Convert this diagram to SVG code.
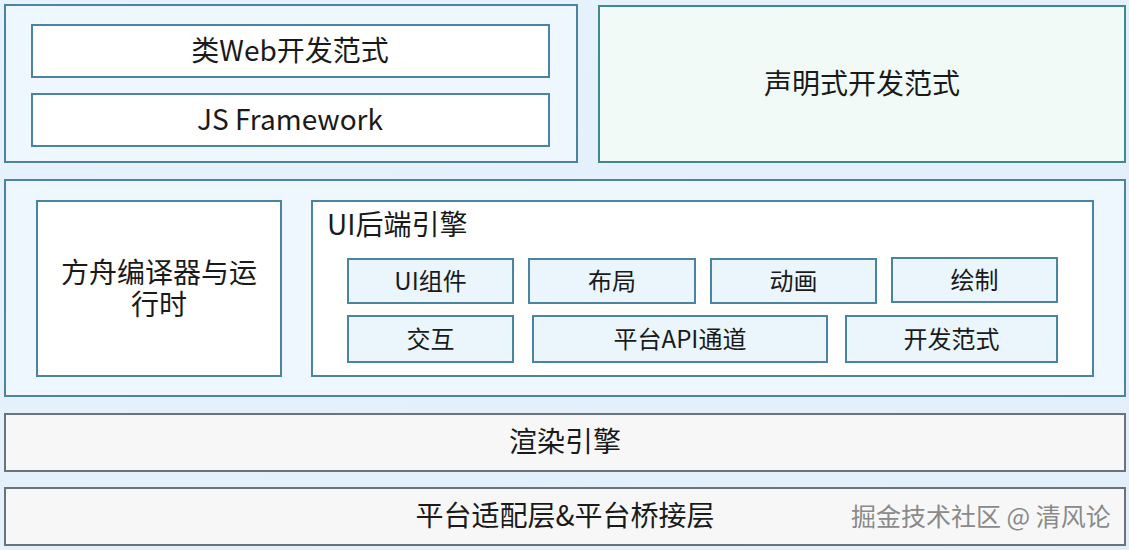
<svg xmlns="http://www.w3.org/2000/svg" width="1129" height="550" viewBox="0 0 1129 550">
<defs>
<linearGradient id="bg" x1="0" y1="0" x2="1" y2="1">
<stop offset="0" stop-color="#e6f2fc"/>
<stop offset="1" stop-color="#e2effb"/>
</linearGradient>
</defs>
<style>
.outer{fill:#eef7fd;stroke:#4b84a2;stroke-width:2}
.green{fill:#f1faf6;stroke:#3e8b8c;stroke-width:2}
.inner{fill:#ffffff;stroke:#4b84a2;stroke-width:2}
.small{fill:#eaf5fc;stroke:#4b84a2;stroke-width:2}
.gray{fill:#f7f7f7;stroke:#6b7278;stroke-width:2}
text{font-family:"Noto Sans CJK SC","Noto Sans",sans-serif;fill:#1a1a1a;text-anchor:middle;dominant-baseline:central}
.big{font-size:28px}
.sm{font-size:24px}
.wm{font-size:25px;fill:#8a8a8a;text-anchor:start}
</style>
<rect width="1129" height="550" fill="url(#bg)"/>
<g id="web-paradigm">
<rect class="outer" x="5" y="5" width="572" height="157"/>
<g id="web-like">
<rect class="inner" x="32" y="25" width="517" height="52"/>
<text class="big" x="290" y="49">类Web开发范式</text>
</g>
<g id="js-framework">
<rect class="inner" x="32" y="94" width="517" height="52"/>
<text class="big" x="290" y="118">JS Framework</text>
</g>
</g>
<g id="declarative">
<rect class="green" x="599" y="6" width="526" height="156"/>
<text class="big" x="862" y="82">声明式开发范式</text>
</g>
<g id="middle-layer">
<rect class="outer" x="5" y="180" width="1120" height="216"/>
<g id="ark-compiler">
<rect class="inner" x="37" y="201" width="244" height="175"/>
<text class="big" x="159" y="271"><tspan x="159" y="271">方舟编译器与运</tspan><tspan x="159" y="303">行时</tspan></text>
</g>
<g id="ui-backend">
<rect class="inner" x="312" y="201" width="781" height="175"/>
<text class="big" x="327" y="223" style="text-anchor:start">UI后端引擎</text>
<g id="ui-components"><rect class="small" x="348" y="259" width="165" height="44"/><text class="sm" x="430.5" y="279">UI组件</text></g>
<g id="layout"><rect class="small" x="529" y="259" width="166" height="44"/><text class="sm" x="612" y="279">布局</text></g>
<g id="animation"><rect class="small" x="711" y="259" width="165" height="44"/><text class="sm" x="793.5" y="279">动画</text></g>
<g id="drawing"><rect class="small" x="892" y="258" width="165" height="44"/><text class="sm" x="974.5" y="278">绘制</text></g>
<g id="interaction"><rect class="small" x="348" y="316" width="165" height="46"/><text class="sm" x="430.5" y="337">交互</text></g>
<g id="platform-api"><rect class="small" x="533" y="316" width="294" height="46"/><text class="sm" x="680" y="337">平台API通道</text></g>
<g id="dev-paradigm"><rect class="small" x="846" y="316" width="211" height="46"/><text class="sm" x="951.5" y="337">开发范式</text></g>
</g>
</g>
<g id="render-engine">
<rect class="gray" x="5" y="414" width="1120" height="57"/>
<text class="big" x="565" y="440">渲染引擎</text>
</g>
<g id="platform-adapter">
<rect class="gray" x="5" y="488" width="1120" height="57"/>
<text class="big" x="565" y="514">平台适配层&amp;平台桥接层</text>
<text class="wm" x="851" y="515">掘金技术社区 @ 清风论</text>
</g>
<g id="connectors"/>
</svg>
